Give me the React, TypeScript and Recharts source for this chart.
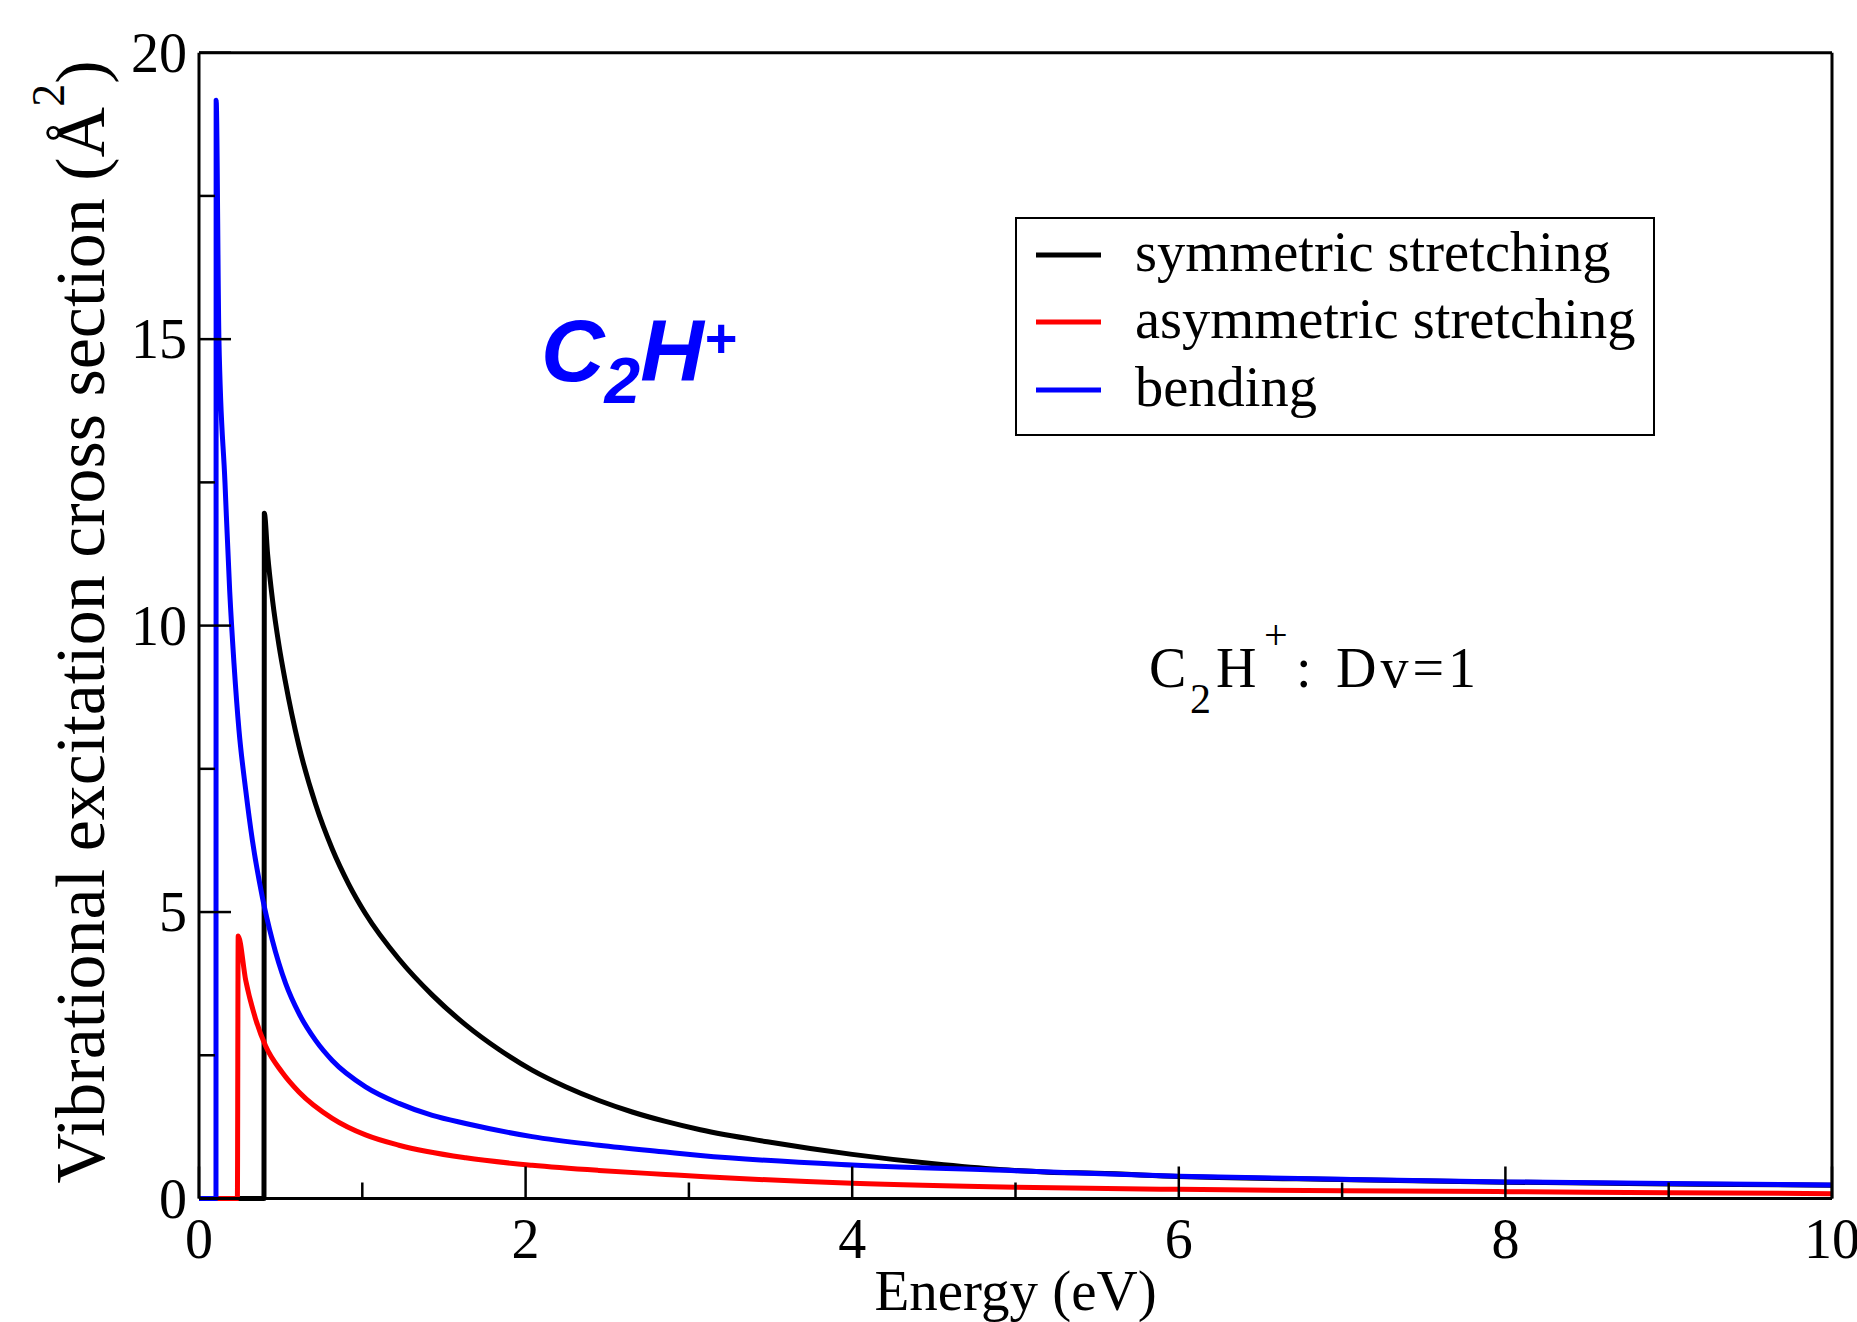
import React from 'react';
import { LineChart, Line, XAxis, YAxis, Legend } from 'recharts';

// ---- data ----
const symX = [0, 0.398, 0.4, 0.42, 0.45, 0.49, 0.527, 0.612, 0.714, 0.816, 0.918, 1.02, 1.224, 1.429, 1.633, 1.837, 2.04, 2.245, 2.449, 2.653, 2.857, 3.07, 3.48, 4.0, 4.5, 4.9, 5.2, 5.5, 6, 7, 8, 9, 10];
const symY = [0, 0, 11.96, 11.25, 10.45, 9.65, 9.05, 7.9, 6.88, 6.1, 5.48, 4.97, 4.18, 3.55, 3.03, 2.6, 2.24, 1.95, 1.71, 1.51, 1.345, 1.2, 0.99, 0.77, 0.605, 0.505, 0.46, 0.44, 0.385, 0.33, 0.285, 0.255, 0.23];

const asymX = [0, 0.235, 0.24, 0.286, 0.347, 0.408, 0.51, 0.612, 0.816, 1.02, 1.224, 1.633, 2.04, 2.449, 2.857, 3.1, 4.0, 5.0, 6.0, 7.0, 8.0, 9.0, 10];
const asymY = [0, 0, 4.58, 3.81, 3.13, 2.66, 2.2, 1.86, 1.4, 1.11, 0.93, 0.71, 0.58, 0.49, 0.42, 0.38, 0.265, 0.195, 0.16, 0.135, 0.12, 0.1, 0.085];

const bendX = [0, 0.104, 0.105, 0.122, 0.159, 0.188, 0.214, 0.245, 0.286, 0.327, 0.388, 0.449, 0.531, 0.612, 0.714, 0.816, 1.02, 1.224, 1.429, 1.633, 2.04, 2.449, 2.857, 3.07, 4.0, 5.0, 6.0, 7.0, 8.0, 9.0, 10];
const bendY = [0, 0, 19.17, 15.0, 12.5, 10.6, 9.35, 8.17, 7.13, 6.25, 5.26, 4.51, 3.75, 3.23, 2.76, 2.41, 1.95, 1.66, 1.45, 1.31, 1.08, 0.93, 0.81, 0.75, 0.585, 0.485, 0.39, 0.335, 0.29, 0.26, 0.235];

const seriesNames = ['symmetric stretching', 'asymmetric stretching', 'bending'];
const seriesColors = ['#000000', '#ff0000', '#0000ff'];

const xTicks = [0, 1, 2, 3, 4, 5, 6, 7, 8, 9, 10];
const xLabelTicks = [0, 2, 4, 6, 8, 10];
const yTicks = [0, 2.5, 5, 7.5, 10, 12.5, 15, 17.5, 20];
const yLabelTicks = [0, 5, 10, 15, 20];

const zip = (xs: number[], ys: number[]) => xs.map((x, i) => ({ x, y: ys[i] }));
const seriesData = [zip(symX, symY), zip(asymX, asymY), zip(bendX, bendY)];

const SERIF = '"Liberation Serif", "Times New Roman", serif';
const SANS = '"Liberation Sans", Arial, sans-serif';

const MAJOR = 32;
const MINOR = 16;
const TICK_W = 2.5;
const LINE_W = 5;

const BottomTick = (props: any) => {
  const { x, y, payload } = props;
  const v = payload.value;
  const major = xLabelTicks.includes(v);
  return (
    <g>
      <line x1={x} x2={x} y1={y} y2={y - (major ? MAJOR : MINOR)} stroke="#000" strokeWidth={TICK_W} />
      {major && (
        <text x={x} y={y + 59.5} textAnchor="middle" fontSize={56} fontFamily={SERIF} fill="#000">
          {v}
        </text>
      )}
    </g>
  );
};

const TopTick = (props: any) => {
  const { x, y, payload } = props;
  const major = xLabelTicks.includes(payload.value);
  return <line x1={x} x2={x} y1={y} y2={y + (major ? MAJOR : MINOR)} stroke="#000" strokeWidth={TICK_W} />;
};

const LeftTick = (props: any) => {
  const { x, y, payload } = props;
  const v = payload.value;
  const major = yLabelTicks.includes(v);
  return (
    <g>
      <line x1={x} x2={x + (major ? MAJOR : MINOR)} y1={y} y2={y} stroke="#000" strokeWidth={TICK_W} />
      {major && (
        <text x={x - 12} y={y + 19} textAnchor="end" fontSize={56} fontFamily={SERIF} fill="#000">
          {v}
        </text>
      )}
    </g>
  );
};

const RightTick = (props: any) => {
  const { x, y, payload } = props;
  const major = yLabelTicks.includes(payload.value);
  return <line x1={x} x2={x - (major ? MAJOR : MINOR)} y1={y} y2={y} stroke="#000" strokeWidth={TICK_W} />;
};

const LegendBox = () => {
  const rows = [38, 105, 173];
  return (
    <svg width={640} height={219} style={{ display: 'block' }}>
      <rect x={1} y={1} width={638} height={217} fill="#fff" stroke="#000" strokeWidth={2} />
      {seriesNames.map((n, i) => (
        <g key={n}>
          <line x1={21} x2={86} y1={rows[i]} y2={rows[i]} stroke={seriesColors[i]} strokeWidth={LINE_W} />
          <text x={120} y={rows[i] + 16} fontSize={56.5} fontFamily={SERIF} fill="#000">
            {n}
          </text>
        </g>
      ))}
    </svg>
  );
};

const axisLine = { stroke: '#000', strokeWidth: 3 };

export default function App() {
  return (
    <div style={{ position: 'absolute', left: 0, top: 0, width: 1857, height: 1322, background: '#fff' }}>
      <LineChart width={1857} height={1322} margin={{ top: 51.7, right: 24, bottom: 0, left: 0 }}>
        <XAxis
          xAxisId="b"
          dataKey="x"
          type="number"
          domain={[0, 10]}
          ticks={xTicks}
          orientation="bottom"
          height={123.5}
          tickSize={0}
          tickMargin={0}
          tickLine={false}
          axisLine={axisLine}
          tick={<BottomTick />}
          interval={0}
          allowDuplicatedCategory={false}
        />
        <XAxis
          xAxisId="t"
          dataKey="x"
          type="number"
          domain={[0, 10]}
          ticks={xTicks}
          orientation="top"
          height={1}
          tickSize={0}
          tickMargin={0}
          tickLine={false}
          axisLine={axisLine}
          tick={<TopTick />}
          interval={0}
        />
        <YAxis
          yAxisId="l"
          type="number"
          domain={[0, 20]}
          ticks={yTicks}
          orientation="left"
          width={199}
          tickSize={0}
          tickMargin={0}
          tickLine={false}
          axisLine={axisLine}
          tick={<LeftTick />}
          interval={0}
        />
        <YAxis
          yAxisId="r"
          type="number"
          domain={[0, 20]}
          ticks={yTicks}
          orientation="right"
          width={1}
          tickSize={0}
          tickMargin={0}
          tickLine={false}
          axisLine={axisLine}
          tick={<RightTick />}
          interval={0}
        />
        {seriesData.map((d, i) => (
          <Line
            key={seriesNames[i]}
            xAxisId="b"
            yAxisId="l"
            data={d}
            dataKey="y"
            name={seriesNames[i]}
            type="monotone"
            stroke={seriesColors[i]}
            strokeWidth={LINE_W}
            strokeLinejoin="round"
            dot={false}
            activeDot={false}
            isAnimationActive={false}
          />
        ))}
        <Legend
          content={<LegendBox />}
          layout="horizontal"
          verticalAlign="middle"
          align="center"
          wrapperStyle={{ position: 'absolute', left: 1015, top: 217, width: 640, height: 219 }}
        />
        <text x={1015.5} y={1310} textAnchor="middle" fontSize={57} fontFamily={SERIF} fill="#000">
          Energy (eV)
        </text>
        <text
          transform="translate(104, 622) rotate(-90)"
          textAnchor="middle"
          fontSize={70}
          fontFamily={SERIF}
          fill="#000"
        >
          Vibrational excitation cross section (Å<tspan fontSize={46} dy={-40}>2</tspan>
          <tspan dy={40}>)</tspan>
        </text>
        <text x={541} y={381} fontFamily={SANS} fontWeight="bold" fontStyle="italic" fontSize={88} fill="#0000ff">
          C<tspan fontSize={64} dy={22}>2</tspan>
          <tspan dy={-22}>H</tspan>
          <tspan fontSize={56} dy={-24}>+</tspan>
        </text>
        <text x={1149} y={687} fontFamily={SERIF} fontSize={56} fill="#000">
          C<tspan x={1190} dy={26} fontSize={42}>2</tspan>
          <tspan x={1216} dy={-26}>H</tspan>
          <tspan x={1264} dy={-38} fontSize={42}>+</tspan>
          <tspan x={1296} dy={38}>:</tspan>
          <tspan x={1336} letterSpacing={4}>Dv=1</tspan>
        </text>
      </LineChart>
    </div>
  );
}
